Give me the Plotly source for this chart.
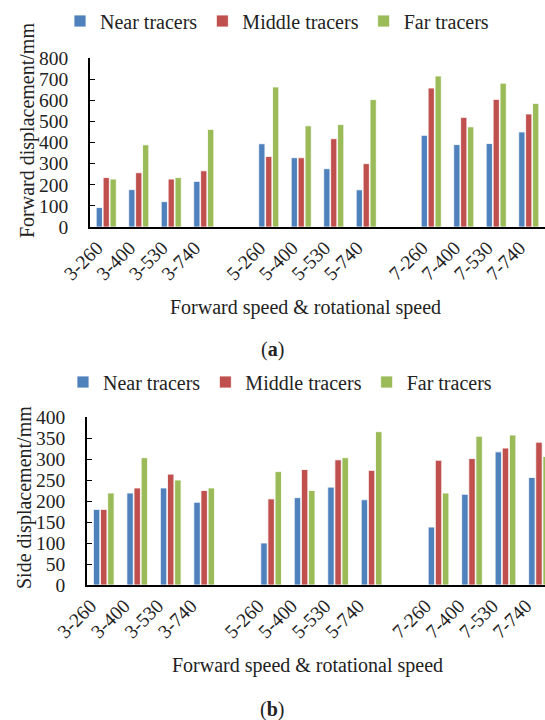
import plotly.graph_objects as go

labels = ["3-260", "3-400", "3-530", "3-740",
          "5-260", "5-400", "5-530", "5-740",
          "7-260", "7-400", "7-530", "7-740"]
series_names = ["Near tracers", "Middle tracers", "Far tracers"]
colors = ["#4F81BD", "#C0504D", "#9BBB59"]

forward_near = [92, 177, 120, 216, 394, 328, 276, 176, 434, 390, 395, 450]
forward_middle = [234, 257, 227, 266, 334, 328, 418, 300, 658, 519, 604, 535]
forward_far = [227, 389, 234, 462, 663, 479, 485, 603, 715, 474, 681, 585]

side_near = [180, 219, 231, 197, 100, 208, 233, 203, 138, 216, 317, 256]
side_middle = [180, 231, 264, 225, 205, 275, 298, 273, 297, 301, 326, 340]
side_far = [219, 303, 250, 231, 270, 225, 303, 365, 219, 354, 357, 306]

forward_ticks = [0, 100, 200, 300, 400, 500, 600, 700, 800]
side_ticks = [0, 50, 100, 150, 200, 250, 300, 350, 400]

W, H = 545, 720
FONT = "Liberation Serif, Times New Roman, serif"
TFS = 19.5
FS = 20

# positions: one empty slot between speed groups
pos = [i + i // 4 for i in range(len(labels))]

fig = go.Figure()
for name, vals, c in zip(series_names, [forward_near, forward_middle, forward_far], colors):
    fig.add_trace(go.Bar(x=pos, y=vals, name=name, marker=dict(color=c, line=dict(color="white", width=0.8)),
                         xaxis="x", yaxis="y", legend="legend"))
for name, vals, c in zip(series_names, [side_near, side_middle, side_far], colors):
    fig.add_trace(go.Bar(x=pos, y=vals, name=name, marker=dict(color=c, line=dict(color="white", width=0.8)),
                         xaxis="x2", yaxis="y2", legend="legend2"))

def px_x(p):
    return p / W

def px_y(p):
    return 1 - p / H

common_x = dict(tickmode="array", tickvals=pos, ticktext=labels, tickangle=-45,
                showline=True, linecolor="black", linewidth=1.5, ticks="",
                showgrid=False, zeroline=False, ticklabeloverflow="allow",
                ticklabelstandoff=0, automargin=False,
                tickfont=dict(family=FONT, size=TFS, color="#222"))
common_y = dict(showline=True, linecolor="black", linewidth=1.5, ticks="inside", ticklen=5,
                tickcolor="black", showgrid=False, zeroline=False, automargin=False,
                tickfont=dict(family=FONT, size=TFS, color="#222"), ticklabelstandoff=16)

leg = dict(orientation="h", font=dict(family=FONT, size=FS, color="#222"),
           bgcolor="rgba(0,0,0,0)", yanchor="middle", xanchor="left", traceorder="normal")

fig.update_layout(
    width=W, height=H, margin=dict(l=0, r=0, t=0, b=0, autoexpand=False),
    paper_bgcolor="white", plot_bgcolor="white",
    barmode="group", bargap=0.36, bargroupgap=0.1,
    xaxis=dict(common_x, domain=[px_x(90), 1], range=[-0.5, 13.5], anchor="y", ticklabelshift=-9),
    yaxis=dict(common_y, domain=[px_y(227), px_y(58)], range=[0, 800], tickvals=forward_ticks, anchor="x"),
    xaxis2=dict(common_x, domain=[px_x(87), 1], range=[-0.5, 13.18], anchor="y2", ticklabelshift=-13),
    yaxis2=dict(common_y, domain=[px_y(585), px_y(417)], range=[0, 400], tickvals=side_ticks, anchor="x2"),
    legend=dict(leg, x=px_x(60), y=px_y(21)),
    legend2=dict(leg, x=px_x(63), y=px_y(382)),
    showlegend=True,
)

ann_font = dict(family=FONT, size=FS, color="#222")
annotations = [
    dict(text="Forward displacement/mm", x=px_x(27), y=px_y(131), textangle=-90),
    dict(text="Side displacement/mm", x=px_x(24), y=px_y(498), textangle=-90),
    dict(text="Forward speed &amp; rotational speed", x=px_x(305), y=px_y(307)),
    dict(text="Forward speed &amp; rotational speed", x=px_x(307), y=px_y(665)),
    dict(text="(<b>a</b>)", x=px_x(272), y=px_y(349)),
    dict(text="(<b>b</b>)", x=px_x(272), y=px_y(709)),
]
for a in annotations:
    a.update(xref="paper", yref="paper", showarrow=False, xanchor="center", yanchor="middle", font=ann_font)
fig.update_layout(annotations=annotations)

fig.write_html("out.html")
